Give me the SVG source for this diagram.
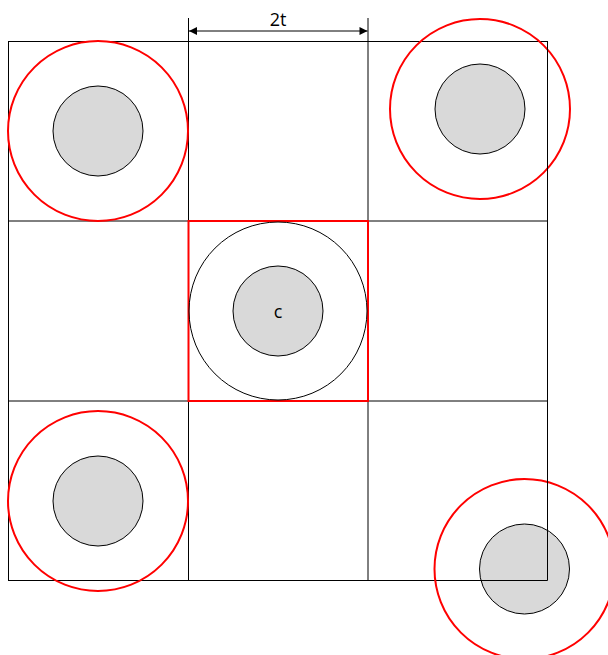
<svg xmlns="http://www.w3.org/2000/svg" width="608" height="655" viewBox="0 0 608 655">
<defs>
<marker id="arr" viewBox="0 0 10 10" refX="10" refY="5" markerWidth="10" markerHeight="8" markerUnits="userSpaceOnUse" orient="auto-start-reverse">
<path d="M0,0 L10,5 L0,10 z" fill="#000"/>
</marker>
<style>
.grid{fill:none;stroke:#000;stroke-width:1}
.red{fill:none;stroke:#ff0000;stroke-width:2}
.core{fill:#d9d9d9;stroke:#000;stroke-width:1}
.lbl{font-family:"Open Sans","Liberation Sans",sans-serif;font-size:18px;fill:#000;text-anchor:middle}
</style>
</defs>
<g id="grid">
<rect class="grid" x="8.5" y="41.5" width="539" height="539"/>
<line class="grid" x1="188.5" y1="41.5" x2="188.5" y2="580.5"/>
<line class="grid" x1="368" y1="41.5" x2="368" y2="580.5"/>
<line class="grid" x1="8.5" y1="221" x2="547.5" y2="221"/>
<line class="grid" x1="8.5" y1="401" x2="547.5" y2="401"/>
</g>
<g id="connectors">
<line class="grid" x1="188.5" y1="18" x2="188.5" y2="41.5"/>
<line class="grid" x1="368" y1="18" x2="368" y2="41.5"/>
<line x1="189" y1="31" x2="367.5" y2="31" stroke="#000" stroke-width="1" marker-start="url(#arr)" marker-end="url(#arr)"/>
<text class="lbl" x="278" y="26">2t</text>
</g>
<g id="center">
<rect x="188.5" y="221" width="179.5" height="180" fill="none" stroke="#ff0000" stroke-width="2"/>
<circle cx="278" cy="311" r="89" fill="none" stroke="#000" stroke-width="1"/>
<circle class="core" cx="278" cy="311" r="45"/>
<text class="lbl" x="278" y="318">c</text>
</g>
<g id="top-left">
<circle class="red" cx="98" cy="131" r="90"/>
<circle class="core" cx="98" cy="131" r="45"/>
</g>
<g id="top-right">
<circle class="red" cx="480" cy="109" r="90"/>
<circle class="core" cx="480" cy="109" r="45"/>
</g>
<g id="bottom-left">
<circle class="red" cx="98" cy="501" r="90"/>
<circle class="core" cx="98" cy="501" r="45"/>
</g>
<g id="bottom-right">
<circle class="red" cx="524.5" cy="569" r="90"/>
<circle class="core" cx="524.5" cy="569" r="45"/>
<path d="M547.5 41.5 V580.5 H480" fill="none" stroke="#000" stroke-width="1"/>
</g>
</svg>
